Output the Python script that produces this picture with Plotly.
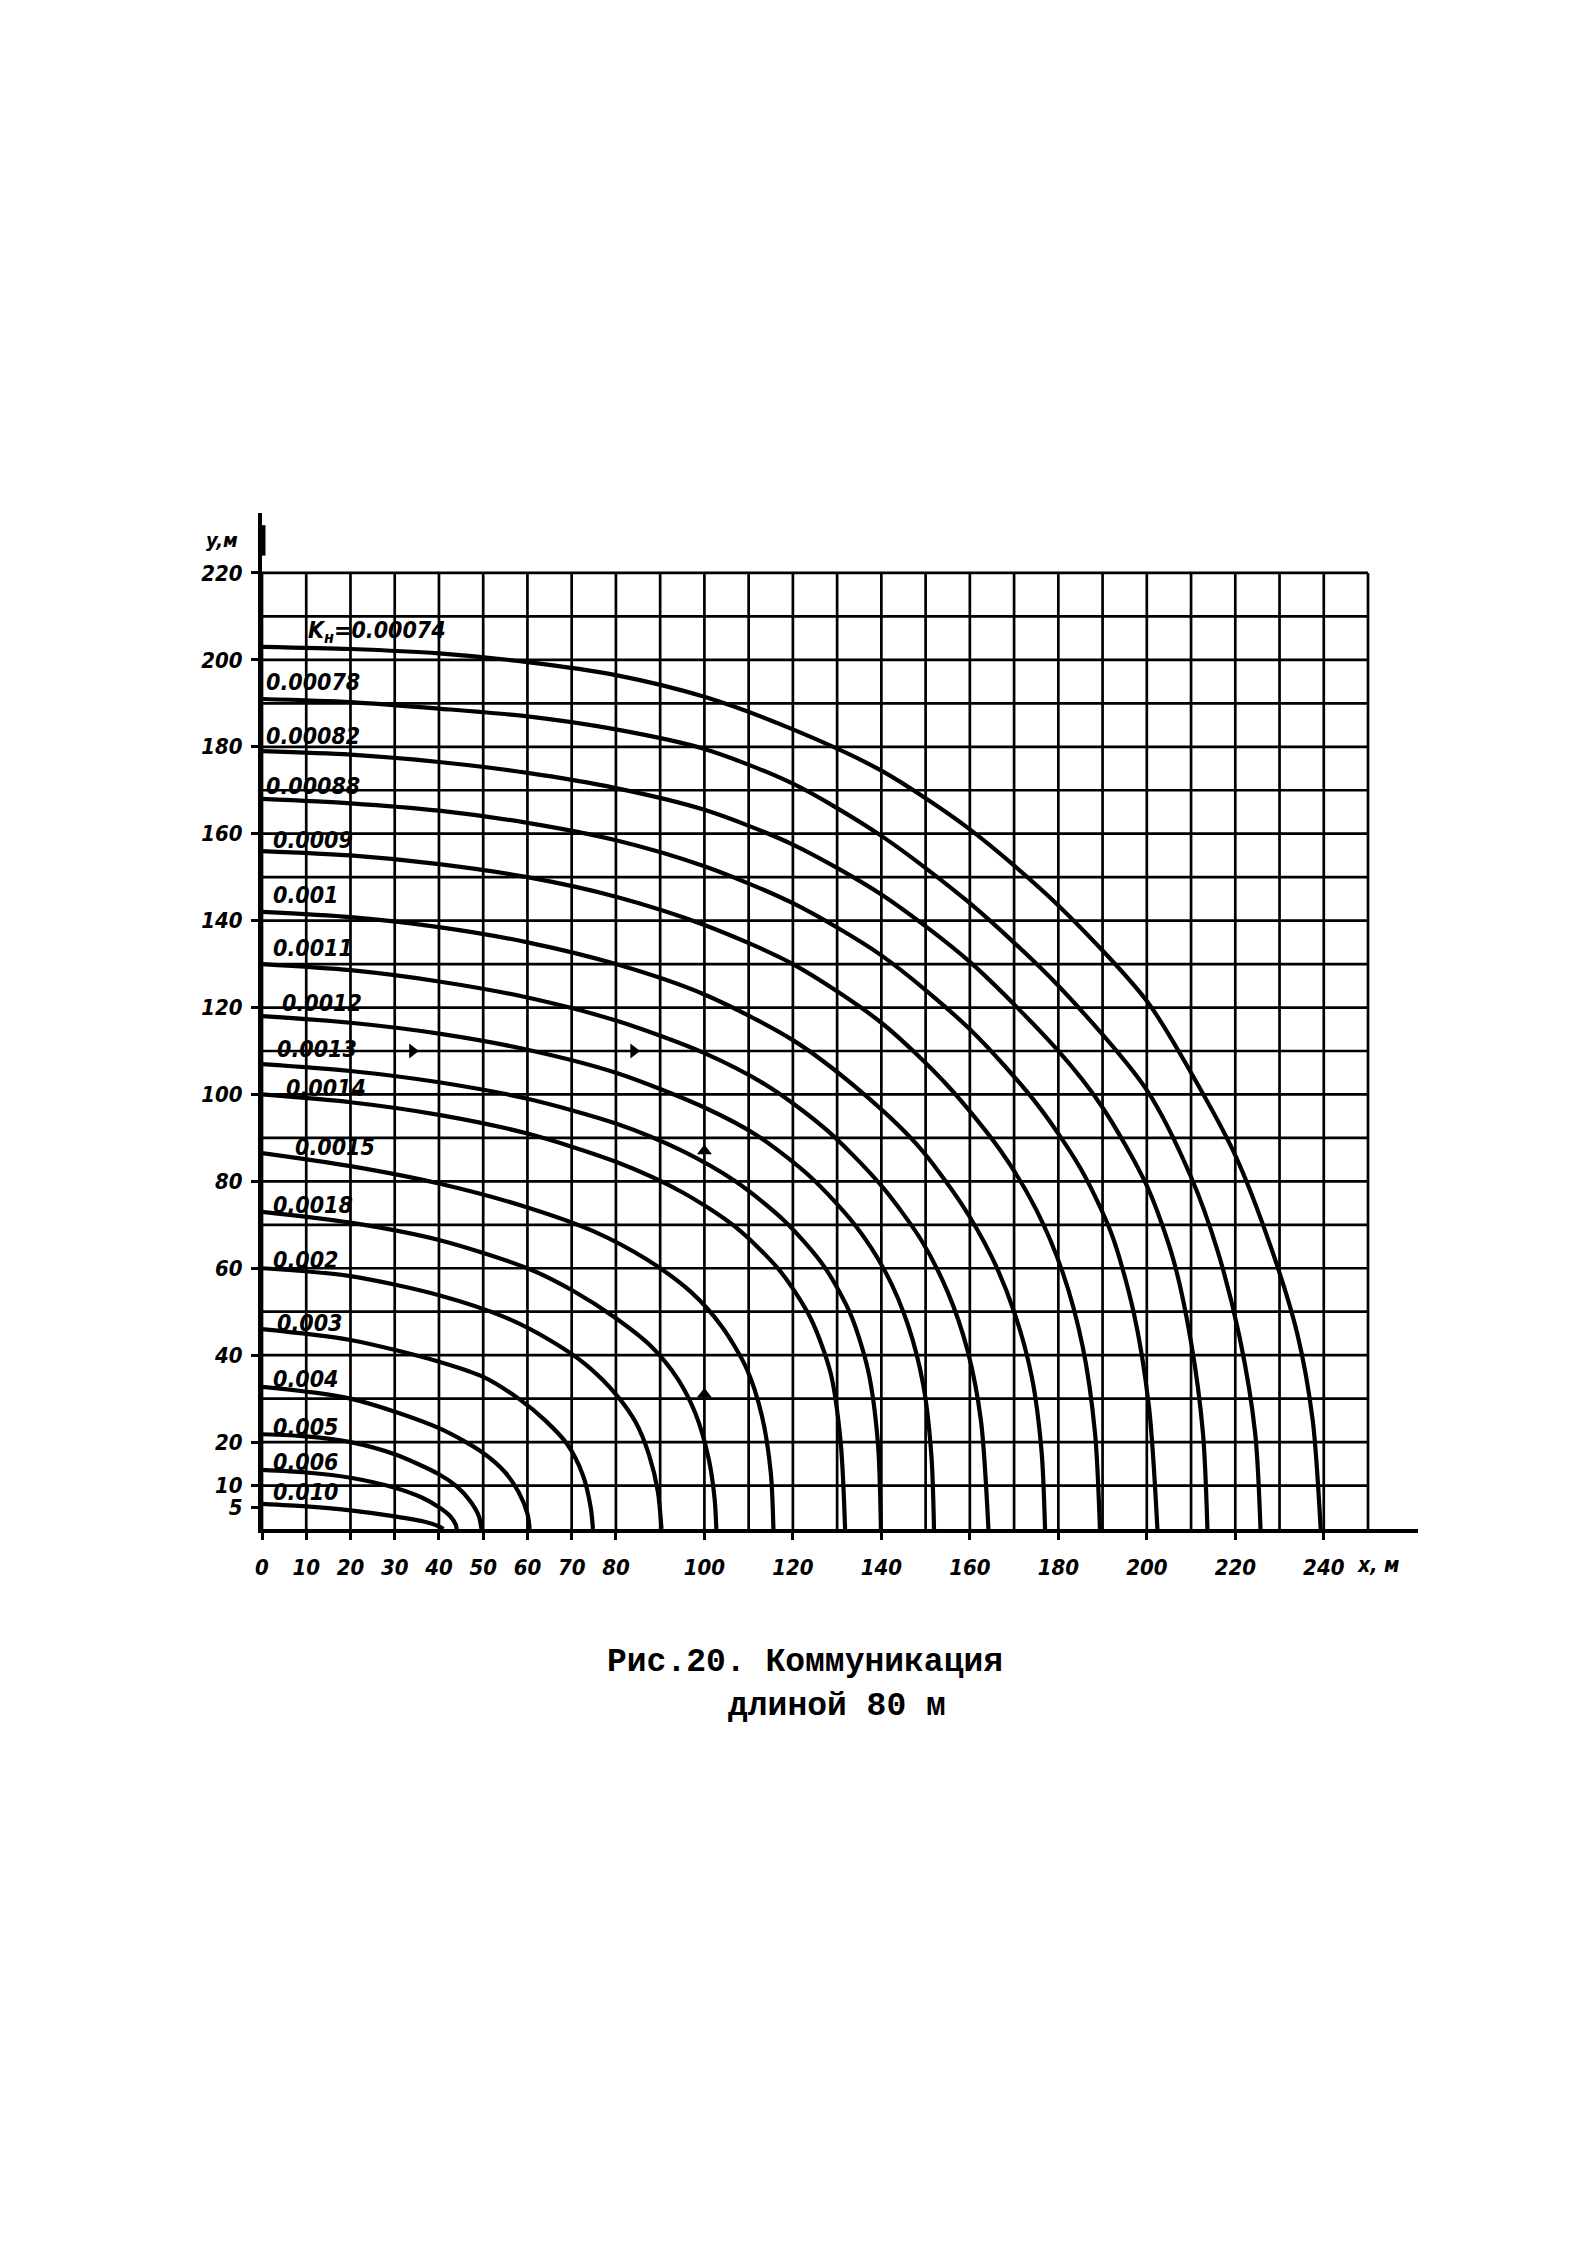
import plotly.graph_objects as go

# ---------------- data ----------------
LABELS = ["K<sub>н</sub>=0.00074", "0.00078", "0.00082", "0.00088", "0.0009", "0.001",
          "0.0011", "0.0012", "0.0013", "0.0014", "0.0015", "0.0018", "0.002",
          "0.003", "0.004", "0.005", "0.006", "0.010"]

x_00074 = [0, 20, 40, 60, 80, 100, 120, 140, 160, 180, 200, 210, 220, 228, 234, 237.5, 239.3]
y_00074 = [203, 202.5, 201.5, 199.5, 196.5, 191.5, 184, 174.5, 161, 143.5, 121.5, 105, 86, 65, 45, 25, 0]
x_00078 = [0, 20, 40, 60, 80, 100, 120, 140, 160, 180, 200, 210, 216, 221, 224.5, 225.7]
y_00078 = [191, 190.3, 188.8, 187, 184, 179.5, 171.5, 159.5, 144, 125, 101, 81, 64, 44, 22, 0]
x_00082 = [0, 20, 40, 60, 80, 100, 120, 140, 160, 180, 190, 200, 206, 210, 212.7, 213.7]
y_00082 = [179, 178.2, 176.5, 174, 170.5, 165.5, 157.5, 146, 130.5, 110, 97, 79, 62, 43, 22, 0]
x_00088 = [0, 20, 40, 60, 80, 100, 120, 140, 160, 175, 185, 192, 197, 200.5, 202.4]
y_00088 = [168, 167, 165.3, 162.5, 158.5, 152.5, 144, 132, 115, 98, 83, 68, 50, 28, 0]
x_0009 = [0, 20, 40, 60, 80, 100, 120, 140, 155, 167, 175, 181, 185.5, 188.3, 189.4]
y_0009 = [156, 155, 153, 150, 145.5, 139, 130, 116.5, 102, 87, 73.5, 59, 42, 22, 0]
x_001 = [0, 20, 40, 60, 80, 100, 120, 135, 148, 158, 165, 170, 174, 176.2, 177]
y_001 = [142, 140.8, 138.5, 135, 130, 123, 112.5, 101, 88.5, 75, 62.5, 50, 35, 18, 0]
x_0011 = [0, 20, 40, 60, 80, 100, 115, 128, 140, 149, 155, 159.5, 162.5, 164.2]
y_0011 = [130, 128.6, 126, 122.3, 117, 109.5, 101.5, 91.5, 79, 66.5, 54.5, 41, 25, 0]
x_0012 = [0, 20, 40, 60, 80, 100, 112, 124, 134, 141, 146, 149.5, 151.3, 151.9]
y_0012 = [118, 116.5, 114, 110.3, 105, 97, 90.5, 81, 70, 59, 47, 33, 17, 0]
x_0013 = [0, 20, 40, 60, 80, 95, 107, 118, 127, 133, 137, 139.2, 139.9]
y_0013 = [107, 105.4, 102.8, 99, 93.3, 87, 80, 71, 60.5, 49.5, 36.5, 20, 0]
x_0014 = [0, 20, 40, 60, 80, 95, 107, 117, 124, 128.5, 130.8, 131.8]
y_0014 = [100, 98.2, 95.3, 91, 84.5, 77.5, 69.5, 59.5, 48.5, 36, 20, 0]
x_0015 = [0, 20, 40, 60, 75, 87, 97, 104, 109.5, 113, 115, 115.6]
y_0015 = [86.5, 83.5, 79.5, 74, 68.5, 62, 54.5, 46.5, 37, 26, 13, 0]
x_0018 = [0, 20, 40, 60, 70, 80, 88, 94, 98, 101, 102.3, 102.7]
y_0018 = [73, 70.5, 66.5, 60, 55, 48.5, 42, 34.5, 26.5, 16, 7, 0]
x_002 = [0, 20, 40, 55, 65, 73, 80, 84.5, 87.5, 89.5, 90.3]
y_002 = [60, 58.2, 53.8, 48.7, 43.5, 38, 31, 24.5, 17, 8.5, 0]
x_003 = [0, 20, 40, 50, 58, 64, 69, 72.5, 74.3, 74.8]
y_003 = [46, 43.5, 38.5, 35, 30, 25, 19.5, 12.5, 5, 0]
x_004 = [0, 20, 40, 50, 55, 58, 60, 60.5]
y_004 = [32.7, 30, 23.2, 17.5, 13, 8.5, 3.5, 0]
x_005 = [0, 10, 20, 30, 40, 44, 47, 49, 49.6]
y_005 = [21.8, 21.3, 20, 17.2, 12.6, 9.8, 6.5, 3, 0]
x_006 = [0, 10, 20, 30, 36, 40, 42.5, 43.8, 44]
y_006 = [13.6, 13, 11.8, 9.5, 7.3, 5, 3, 1, 0]
x_010 = [0, 10, 20, 30, 37, 40, 41]
y_010 = [5.8, 5.2, 4.3, 2.9, 1.6, 0.6, 0]

CURVES_X = [x_00074, x_00078, x_00082, x_00088, x_0009, x_001, x_0011, x_0012, x_0013,
            x_0014, x_0015, x_0018, x_002, x_003, x_004, x_005, x_006, x_010]
CURVES_Y = [y_00074, y_00078, y_00082, y_00088, y_0009, y_001, y_0011, y_0012, y_0013,
            y_0014, y_0015, y_0018, y_002, y_003, y_004, y_005, y_006, y_010]

# label anchor positions (x, y) in chart units
LABEL_X = [10, 0.5, 0.5, 0.5, 2, 2, 2, 4, 3, 5, 7, 2, 2, 3, 2, 2, 2, 2]
LABEL_Y = [206.5, 195, 182.5, 171, 158.5, 146, 133.7, 121, 110.4, 101.5, 88, 74.5, 62, 47.5,
           34.5, 23.5, 15.5, 8.6]

X_TICKS = [0, 10, 20, 30, 40, 50, 60, 70, 80, 100, 120, 140, 160, 180, 200, 220, 240]
X_TICKTEXT = ["0", "10", "20", "30", "40", "50", "60", "70", "80", "100", "120", "140",
              "160", "180", "200", "220", "240"]
Y_TICKS = [5, 10, 20, 40, 60, 80, 100, 120, 140, 160, 180, 200, 220]
Y_TICKTEXT = ["5", "10", "20", "40", "60", "80", "100", "120", "140", "160", "180", "200", "220"]

GRID_X = list(range(0, 251, 10))
GRID_Y = list(range(10, 221, 10))

# example arrows (direction markers)
ARROW_RIGHT_X = [34, 84]
ARROW_RIGHT_Y = [110, 110]
ARROW_UP_X = [100, 100]
ARROW_UP_Y = [87, 31]

CAPTION_1 = "Рис.20. Коммуникация"
CAPTION_2 = "длиной 80 м"
Y_TITLE = "y,м"
X_TITLE = "x, м"

# ---------------- figure ----------------
W, H = 1594, 2245
L, R_EDGE, T, B_EDGE = 262, 1418, 513, 1529.5
XMAX = 261.3
YMAX = 233.8
PW = R_EDGE - L
PH = B_EDGE - T


def px_to_paper(px, py):
    return (px - L) / PW, (B_EDGE - py) / PH


LABEL_FONT = "Liberation Sans Narrow, DejaVu Sans Condensed, Liberation Sans, sans-serif"
MONO_FONT = "Liberation Mono, DejaVu Sans Mono, monospace"

fig = go.Figure()

shapes = []
for gx in GRID_X:
    shapes.append(dict(type="line", xref="x", yref="y", x0=gx, x1=gx, y0=0, y1=220,
                       line=dict(color="black", width=2.7), layer="below"))
for gy in GRID_Y:
    shapes.append(dict(type="line", xref="x", yref="y", x0=0, x1=250, y0=gy, y1=gy,
                       line=dict(color="black", width=2.7), layer="below"))
# thick part of the y axis near its top
shapes.append(dict(type="line", xref="x", yref="y", x0=0, x1=0, y0=224, y1=231,
                   line=dict(color="black", width=7)))

for xs, ys in zip(CURVES_X, CURVES_Y):
    fig.add_trace(go.Scatter(x=xs, y=ys, mode="lines",
                             line=dict(color="black", width=4.2, shape="spline", smoothing=0.8),
                             hoverinfo="skip", showlegend=False))

fig.add_trace(go.Scatter(x=ARROW_RIGHT_X, y=ARROW_RIGHT_Y, mode="markers",
                         marker=dict(symbol="triangle-right", size=13, color="black"),
                         hoverinfo="skip", showlegend=False))
fig.add_trace(go.Scatter(x=ARROW_UP_X, y=ARROW_UP_Y, mode="markers",
                         marker=dict(symbol="triangle-up", size=13, color="black"),
                         hoverinfo="skip", showlegend=False))

annotations = []
for lab, lx, ly in zip(LABELS, LABEL_X, LABEL_Y):
    annotations.append(dict(x=lx, y=ly, xref="x", yref="y", text="<b><i>" + lab + "</i></b>",
                            showarrow=False, xanchor="left", yanchor="middle",
                            font=dict(family=LABEL_FONT, size=23, color="black")))

# axis titles (placed in paper coordinates, outside the plotting area)
yx, yy = px_to_paper(222, 540)
annotations.append(dict(x=yx, y=yy, xref="paper", yref="paper", text="<b><i>" + Y_TITLE + "</i></b>",
                        showarrow=False, xanchor="center", yanchor="middle",
                        font=dict(family=LABEL_FONT, size=20, color="black")))
xx, xy = px_to_paper(1355, 1566)
annotations.append(dict(x=xx, y=xy, xref="paper", yref="paper", text="<b><i>" + X_TITLE + "</i></b>",
                        showarrow=False, xanchor="left", yanchor="middle",
                        font=dict(family=LABEL_FONT, size=21, color="black")))

c1x, c1y = px_to_paper(805, 1663)
annotations.append(dict(x=c1x, y=c1y, xref="paper", yref="paper", text="<b>" + CAPTION_1 + "</b>",
                        showarrow=False, xanchor="center", yanchor="middle",
                        font=dict(family=MONO_FONT, size=33, color="black")))
c2x, c2y = px_to_paper(837, 1707)
annotations.append(dict(x=c2x, y=c2y, xref="paper", yref="paper", text="<b>" + CAPTION_2 + "</b>",
                        showarrow=False, xanchor="center", yanchor="middle",
                        font=dict(family=MONO_FONT, size=33, color="black")))

fig.update_layout(
    width=W, height=H,
    margin=dict(l=L, r=W - R_EDGE, t=T, b=H - B_EDGE, pad=0),
    paper_bgcolor="white", plot_bgcolor="white",
    shapes=shapes, annotations=annotations,
    showlegend=False,
    xaxis=dict(range=[0, XMAX], showgrid=False, zeroline=False,
               showline=True, linecolor="black", linewidth=4,
               tickmode="array", tickvals=X_TICKS,
               ticktext=["<b><i>" + t + "</i></b>" for t in X_TICKTEXT],
               ticks="outside", ticklen=7, tickwidth=2.5, tickcolor="black",
               ticklabelstandoff=9,
               tickfont=dict(family=LABEL_FONT, size=22, color="black"),
               tickangle=0),
    yaxis=dict(range=[0, YMAX], showgrid=False, zeroline=False,
               showline=True, linecolor="black", linewidth=4,
               tickmode="array", tickvals=Y_TICKS,
               ticktext=["<b><i>" + t + "</i></b>" for t in Y_TICKTEXT],
               ticks="outside", ticklen=7, tickwidth=2.5, tickcolor="black",
               ticklabelstandoff=4,
               tickfont=dict(family=LABEL_FONT, size=22, color="black")),
)

fig.write_html("out.html", config={"displayModeBar": False},
               post_script="document.body.style.margin='0';")
